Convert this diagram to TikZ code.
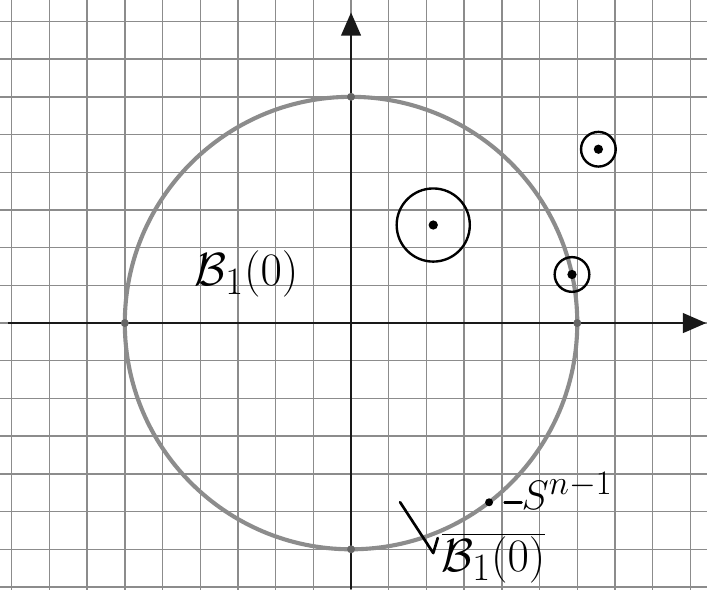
\documentclass[tikz,border=0pt]{standalone}
\usepackage{graphicx}
\usetikzlibrary{arrows.meta}
\newcommand{\bigtext}[1]{\scalebox{1.41}{\fontsize{24.88}{30}\selectfont #1}}
\newcommand{\midtext}[1]{\scalebox{1.25}{\fontsize{24.88}{30}\selectfont #1}}
\begin{document}
\begin{tikzpicture}[
  gridline/.style={draw=black!45, line width=1.05pt},
  axis/.style={draw=black!90, line width=1.9pt, -{Triangle[length=0.62cm,width=0.52cm]}},
  ball/.style={draw=black!45, line width=3.1pt},
  ring/.style={draw=black, line width=1.8pt},
  pt/.style={circle, fill=black, inner sep=0pt, minimum size=7pt},
  axpt/.style={circle, fill=black!60, inner sep=0pt, minimum size=6pt},
  hand/.style={inner sep=0pt},
  penstroke/.style={draw=black, line width=2pt, line cap=round, line join=round}
]
\useasboundingbox (-9.31,-7.056) rectangle (9.44,8.568);
\fill[white] (-9.31,-7.056) rectangle (9.44,8.568);
\begin{scope}
\clip (-9.31,-7.056) rectangle (9.44,8.568);
\foreach \x in {-9,...,9} \draw[gridline] (\x,-7.2) -- (\x,8.7);
\foreach \y in {-7,...,8} \draw[gridline] (-9.5,\y) -- (9.6,\y);
\end{scope}
% ball
\coordinate (O) at (0,0);
\draw[ball] (O) circle (6);
% axes
\coordinate (xl) at (-9.1,0);
\coordinate (xr) at (9.42,0);
\coordinate (yb) at (0,-7.06);
\coordinate (yt) at (0,8.24);
\draw[axis] (xl) -- (xr);
\draw[axis] (yb) -- (yt);
\node[axpt] (ptop) at (0,6) {};
\node[axpt] (pleft) at (-6,0) {};
\node[axpt] (pright) at (6,0) {};
\node[axpt] (pbot) at (0,-6) {};
% neighbourhoods
\node[pt] (c1) at (2.18,2.6) {};
\draw[ring] (c1) circle (0.97);
\node[pt] (c2) at (6.56,4.61) {};
\draw[ring] (c2) circle (0.46);
\node[pt] (c3) at (12.4:6) {};
\draw[ring] (c3) circle (0.46);
% sphere point
\node[pt, minimum size=6pt] (sdot) at (-52.4:6) {};
\node[hand, anchor=base west] (slab) at (4.52,-4.95) {\midtext{$S^{n-1}$}};
\draw[penstroke, shorten <=0.3cm] (sdot) -- (slab.west |- sdot);
% labels
\node[hand, anchor=base west] (blab) at (-4.15,1.0) {\bigtext{$\mathcal{B}_1(0)$}};
\node[hand, anchor=base west] (cl) at (2.4,-6.6) {\bigtext{$\overline{\mathcal{B}_1(0)}$}};
\coordinate (v1) at (1.3,-4.75);
\coordinate (v2) at (2.18,-6.1);
\coordinate (v3) at (2.3,-5.7);
\draw[penstroke] (v1) -- (v2) -- (v3);
\end{tikzpicture}
\end{document}
